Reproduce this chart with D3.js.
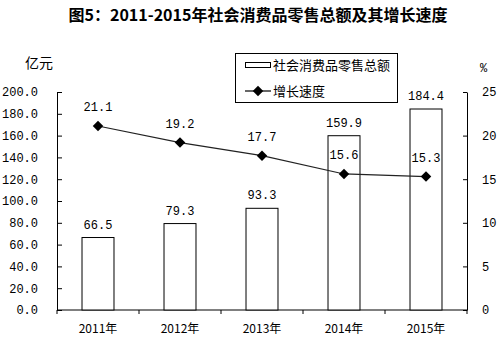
<!DOCTYPE html>
<html>
<head>
<meta charset="utf-8">
<script src="https://cdn.jsdelivr.net/npm/d3@7"></script>
<style>
  html, body { margin: 0; padding: 0; background: #fff; }
  svg { display: block; }
  .num { font-family: "Liberation Mono", "DejaVu Sans Mono", monospace; }
  .cjk { font-family: "Noto Sans CJK SC", sans-serif; }
</style>
</head>
<body>
<svg id="chart" width="498" height="344"></svg>
<script>
// Retail sales of consumer goods, 2011-2015
const years = ["2011年", "2012年", "2013年", "2014年", "2015年"];
const salesValues = [66.5, 79.3, 93.3, 159.9, 184.4];   // 亿元
const growthRates = [21.1, 19.2, 17.7, 15.6, 15.3];     // %
const leftTicks = [0, 20, 40, 60, 80, 100, 120, 140, 160, 180, 200];
const rightTicks = [0, 5, 10, 15, 20, 25];

const svg = d3.select("#chart");
const plot = { left: 57, right: 467, top: 92, bottom: 310 };

const x = d3.scaleBand().domain(years).range([plot.left, plot.right]).paddingInner(0).paddingOuter(0);
const yLeft = d3.scaleLinear().domain([0, 200]).range([plot.bottom, plot.top]);
const yRight = d3.scaleLinear().domain([0, 25]).range([plot.bottom, plot.top]);

// Title
svg.append("text")
  .attr("class", "cjk")
  .attr("x", 258).attr("y", 21)
  .attr("text-anchor", "middle")
  .attr("font-size", 16).attr("font-weight", "bold")
  .text("图5：2011-2015年社会消费品零售总额及其增长速度");

// Units
svg.append("text").attr("class", "cjk").attr("x", 25).attr("y", 68)
  .attr("font-size", 14).text("亿元");
svg.append("text").attr("class", "num").attr("x", 480).attr("y", 72)
  .attr("font-size", 12).text("%");

// Left axis
const leftAxis = d3.axisLeft(yLeft).tickValues(leftTicks)
  .tickFormat(d3.format(".1f")).tickSizeInner(-5).tickSizeOuter(0).tickPadding(19);
const gl = svg.append("g").attr("transform", `translate(${plot.left},0)`).call(leftAxis);
gl.selectAll("text").attr("class", "num").attr("font-size", 12).attr("fill", "#000");

// Right axis
const rightAxis = d3.axisRight(yRight).tickValues(rightTicks)
  .tickSizeInner(-4).tickSizeOuter(0).tickPadding(15);
const gr = svg.append("g").attr("transform", `translate(${plot.right},0)`).call(rightAxis);
gr.selectAll("text").attr("class", "num").attr("font-size", 12).attr("fill", "#000");

// Bottom axis: ticks at category boundaries, labels centred under each year
const gb = svg.append("g").attr("transform", `translate(0,${plot.bottom})`);
gb.append("line").attr("x1", plot.left).attr("x2", plot.right)
  .attr("stroke", "#000");
const bounds = years.map(d => x(d)).concat([plot.right]);
gb.selectAll("line.tk").data(bounds).join("line").attr("class", "tk")
  .attr("x1", d => d).attr("x2", d => d).attr("y1", 0).attr("y2", 4)
  .attr("stroke", "#000");
gb.selectAll("text").data(years).join("text")
  .attr("class", "cjk")
  .attr("x", d => x(d) + x.bandwidth() / 2).attr("y", 23)
  .attr("text-anchor", "middle").attr("font-size", 12)
  .text(d => d);

svg.selectAll(".domain").attr("stroke", "#000");
svg.selectAll(".tick line").attr("stroke", "#000");

// Bars
const barW = x.bandwidth() * 0.39;
svg.append("g").selectAll("rect").data(salesValues).join("rect")
  .attr("x", (d, i) => x(years[i]) + x.bandwidth() / 2 - barW / 2)
  .attr("y", d => yLeft(d))
  .attr("width", barW)
  .attr("height", d => plot.bottom - yLeft(d))
  .attr("fill", "#fff").attr("stroke", "#000").attr("stroke-width", 1);

svg.append("g").selectAll("text").data(salesValues).join("text")
  .attr("class", "num")
  .attr("x", (d, i) => x(years[i]) + x.bandwidth() / 2)
  .attr("y", d => yLeft(d) - 9)
  .attr("text-anchor", "middle").attr("font-size", 12)
  .text(d => d.toFixed(1));

// Growth line
const cx = i => x(years[i]) + x.bandwidth() / 2;
const line = d3.line().x((d, i) => cx(i)).y(d => yRight(d));
svg.append("path").datum(growthRates)
  .attr("d", line).attr("fill", "none").attr("stroke", "#222").attr("stroke-width", 1.2);

const diamond = d3.symbol().type(d3.symbolDiamond2).size(70);
svg.append("g").selectAll("path").data(growthRates).join("path")
  .attr("d", diamond)
  .attr("transform", (d, i) => `translate(${cx(i)},${yRight(d)})`)
  .attr("fill", "#000");

svg.append("g").selectAll("text").data(growthRates).join("text")
  .attr("class", "num")
  .attr("x", (d, i) => cx(i))
  .attr("y", d => yRight(d) - 15)
  .attr("text-anchor", "middle").attr("font-size", 12)
  .text(d => d.toFixed(1));

// Legend
const lg = svg.append("g");
lg.append("rect").attr("x", 235.5).attr("y", 53.5).attr("width", 162).attr("height", 49)
  .attr("fill", "#fff").attr("stroke", "#000");
lg.append("rect").attr("x", 245.5).attr("y", 62.5).attr("width", 25).attr("height", 5)
  .attr("fill", "#fff").attr("stroke", "#000");
lg.append("text").attr("class", "cjk").attr("x", 273).attr("y", 70)
  .attr("font-size", 13).text("社会消费品零售总额");
lg.append("line").attr("x1", 245).attr("x2", 271).attr("y1", 91).attr("y2", 91)
  .attr("stroke", "#000").attr("stroke-width", 1.2);
lg.append("path").attr("d", diamond).attr("transform", "translate(258,91)").attr("fill", "#000");
lg.append("text").attr("class", "cjk").attr("x", 273).attr("y", 96)
  .attr("font-size", 13).text("增长速度");
</script>
</body>
</html>
